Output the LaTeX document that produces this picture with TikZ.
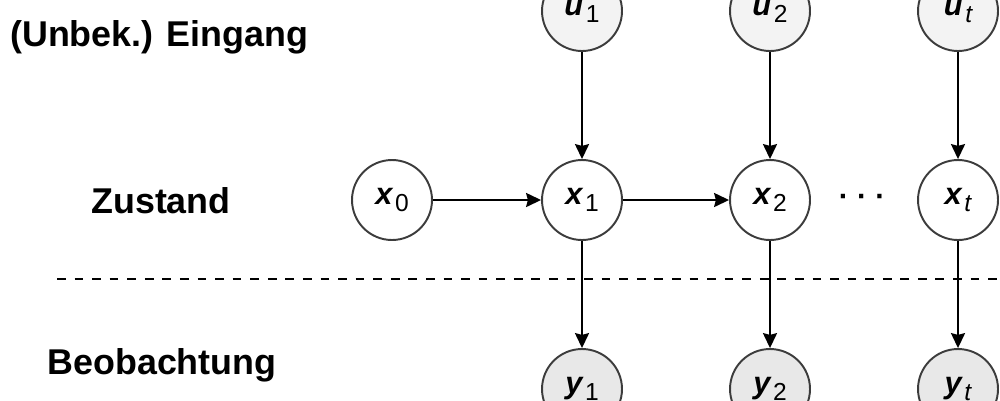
\documentclass[tikz,border=0pt]{standalone}
\usepackage{fontspec}
\setmainfont{Liberation Sans}
\usetikzlibrary{arrows.meta}
\definecolor{rand}{HTML}{3C3C3C}
\definecolor{ufill}{HTML}{F3F3F3}
\definecolor{yfill}{HTML}{E8E8E8}
\newcommand{\nv}[2]{{\bfseries\itshape #1}\kern1.5pt\raisebox{-4pt}{\fontsize{14}{14}\selectfont #2}}

\begin{document}
\begin{tikzpicture}[x=0.02cm, y=-0.02cm,
	knoten/.style={circle, draw=rand, line width=1.1pt, minimum size=1.6cm, inner sep=0pt, font=\fontsize{17.5}{18}\selectfont},
	pfeil/.style={line width=1.1pt, -{Stealth[length=8.5pt, width=8pt, inset=1pt]}},
	lbl/.style={anchor=base, font=\fontsize{20.4}{24}\selectfont\bfseries}]
	\useasboundingbox (0,0) rectangle (1000,400);
	\clip (0,0) rectangle (1000,400);
	% Beschriftung links
	\node [lbl, anchor=base west] (eing) at (4,46) {(Unbek.) Eingang};
	\node [lbl] (zust) at (161,213) {Zustand};
	\node [lbl] (beob) at (162,374) {Beobachtung};
	% Trennlinie
	\draw [dashed, dash pattern=on 5pt off 5pt, line width=0.8pt] (57,279) -- (1000,279);
	% Zustaende
	\node [knoten, fill=white] (x0) at (392,200) {\nv{x}{0}};
	\node [knoten, fill=white] (x1) at (582,200) {\nv{x}{1}};
	\node [knoten, fill=white] (x2) at (770,200) {\nv{x}{2}};
	\node [knoten, fill=white] (xt) at (958,200) {\nv{x}{\itshape t}};
	\node [font=\fontsize{17}{17}\selectfont\bfseries] (dots) at (862,200) {· · ·};
	% Eingaenge
	\node [knoten, fill=ufill] (u1) at (582,11) {\nv{u}{1}};
	\node [knoten, fill=ufill] (u2) at (770,11) {\nv{u}{2}};
	\node [knoten, fill=ufill] (ut) at (958,11) {\nv{u}{\itshape t}};
	% Beobachtungen
	\node [knoten, fill=yfill] (y1) at (582,389) {\nv{y}{1}};
	\node [knoten, fill=yfill] (y2) at (770,389) {\nv{y}{2}};
	\node [knoten, fill=yfill] (yt) at (958,389) {\nv{y}{\itshape t}};
	% Kanten
	\draw [pfeil] (x0) -- (x1);
	\draw [pfeil] (x1) -- (x2);
	\foreach \i in {1,2,t} {
		\draw [pfeil] (u\i) -- (x\i);
		\draw [pfeil] (x\i) -- (y\i);
	}
\end{tikzpicture}
\end{document}
